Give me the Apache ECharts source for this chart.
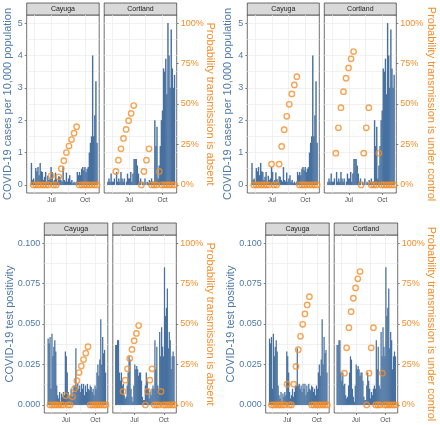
<!DOCTYPE html>
<html><head><meta charset="utf-8">
<script src="https://cdn.jsdelivr.net/npm/echarts@6/dist/echarts.min.js"></script>
<style>html,body{margin:0;padding:0;background:#fff}#c{width:440px;height:425px}</style>
</head><body><div id="c"></div>
<script>
// x values: days relative to 1 July 2020
const facets = ['Cayuga', 'Cortland'];
const xTickDays = [0, 92];
const xTickLabels = ['Jul', 'Oct'];
const xGridDays = [-46, 0, 46, 92];

const casesTicks = [0, 1, 2, 3, 4, 5];
const casesGrid = [0, 0.5, 1, 1.5, 2, 2.5, 3, 3.5, 4, 4.5, 5];
const posTicks = [0, 0.025, 0.05, 0.075, 0.1];
const posGrid = [0, 0.0125, 0.025, 0.0375, 0.05, 0.0625, 0.075, 0.0875, 0.1];
const probTicks = [0, 0.25, 0.5, 0.75, 1];

// 3-day bins: first day of series and bin step
const cayugaCasesStart = -55;
const cortlandCasesStart = -58;
const cayugaPosStart = -56;
const cortlandPosStart = -59;
const binStep = 3;

const cayugaCases = [0.68,0.15,0.2,0.1,0.52,0.42,0.55,0.3,0.68,0.42,
  0.4,0.15,0.25,0.4,0.1,0.28,0.15,0.2,0.55,0.4,
  0.1,0.15,0.38,0.18,0.1,0.27,0.25,0.15,0.1,0.55,
  0.15,0.1,0.38,0.1,0.2,0.3,0.1,0.15,0.05,0.1,
  0.05,0.1,0.4,0.3,0.4,0.3,0.5,0.55,0.45,0.55,
  0.4,0.5,0.55,1.0,1.3,1.5,4.0,1.5,2.15,3.2,1.3];
const cortlandCases = [0.1,0.2,0.1,0.35,0.1,0.1,0.2,0,0.4,0.1,
  0.2,0.1,0.4,0.2,0.1,0.2,0,0.1,0.35,0.2,
  0.2,0.4,0.1,0.35,0.8,0.8,0.8,0.6,0.35,0.1,
  0.2,0,0.1,0.05,0.2,0,0.1,0.05,0.15,0.1,
  0.2,0.1,0.1,2.0,1.2,1.8,0.2,0.6,1.2,2.0,
  2.3,3.6,3.5,3.9,2.8,5.0,4.0,3.0,4.8,3.6,3.0,3.4];
const cayugaPos = [0.041,0.038,0.042,0.01,0.044,0.03,0.036,0.04,0.033,0.012,
  0.006,0.004,0.008,0.002,0.007,0.005,0.008,0.006,0.033,0.03,
  0.02,0.008,0.004,0.006,0.01,0.005,0.008,0.012,0.012,0.035,
  0.012,0.013,0.01,0.012,0.008,0.013,0.01,0.013,0.006,0.012,
  0.008,0.013,0.01,0.009,0.012,0.011,0.008,0.01,0.006,0.012,
  0.01,0.02,0.025,0.018,0.028,0.053,0.025,0.042,0.032,0.034,0.02];
const cortlandPos = [0.037,0.037,0.04,0.04,0.02,0.015,0.02,0.012,0.013,0.006,
  0.004,0.005,0.012,0.02,0.03,0.028,0.01,0.005,0.002,0.012,
  0.025,0.022,0.024,0.022,0.018,0.02,0.02,0.015,0.005,0.003,
  0.003,0.012,0.02,0.015,0.01,0.004,0.008,0.006,0.01,0.012,
  0.01,0.04,0.022,0.036,0.012,0.01,0.045,0.03,0.048,0.036,
  0.03,0.085,0.055,0.06,0.072,0.035,0.045,0.04,0.022,0.03,0.033,0.03];

// weekly probability estimates
const probDays = [-50,-43,-36,-29,-22,-15,-8,-1,6,13,20,27,34,41,48,55,62,69,76,83,90,97,104,111,118,125];
const cayugaAbsent = [0,0,0,0,0,0,0,0.056,0,0,0.05,0.10,0.15,0.20,0.24,0.28,0.32,0.36,0,0,0,0,0,0,0,0];
const cortlandAbsent = [null,null,0.083,0.153,0.223,0.287,0.343,0.397,0.442,0.49,null,null,0,0.083,0.153,0.223,0,0,0,0.083,0,0,0,0,0,0];
const cayugaControl = [0,0,0,0,0,0,0,0.128,0,0,0.128,0.238,0.341,0.424,0.498,0.562,0.618,0.669,0,0,0,0,0,0,0,0];
const cortlandControl = [null,null,0.196,0.353,0.477,0.576,0.659,0.723,0.779,0.824,null,null,0,0.196,0.353,0.477,0,0,0,0.196,0,0,0,0,0,0];

const BLUE = '#4E79A7', BAR_BLUE = '#46709f', ORANGE = '#F28E2B';
const FONT = 'Liberation Sans, Arial, Helvetica, sans-serif';
const X_MIN = -68, X_MAX = 131;

function barPairs(start, vals) { return vals.map((v, i) => [start + i * binStep, v]); }
function probPairs(vals) { return probDays.map((d, i) => [d, vals[i]]).filter(p => p[1] !== null); }

const panels = [
  {L: 26.7, W: 72.5, top: 15, bars: [barPairs(cayugaCasesStart, cayugaCases), barPairs(cortlandCasesStart, cortlandCases)],
   probs: [probPairs(cayugaAbsent), probPairs(cortlandAbsent)], kind: 'cases',
   leftTitle: 'COVID-19 cases per 10,000 population', rightTitle: 'Probability transmission is absent', ltx: 8, rtx: 210},
  {L: 247.3, W: 72, top: 15, bars: [barPairs(cayugaCasesStart, cayugaCases), barPairs(cortlandCasesStart, cortlandCases)],
   probs: [probPairs(cayugaControl), probPairs(cortlandControl)], kind: 'cases',
   leftTitle: 'COVID-19 cases per 10,000 population', rightTitle: 'Probability transmission is under control', ltx: 228, rtx: 431},
  {L: 44.3, W: 63.5, top: 235, bars: [barPairs(cayugaPosStart, cayugaPos), barPairs(cortlandPosStart, cortlandPos)],
   probs: [probPairs(cayugaAbsent), probPairs(cortlandAbsent)], kind: 'pos',
   leftTitle: 'COVID-19 test positivity', rightTitle: 'Probability transmission is absent', ltx: 9.5, rtx: 210},
  {L: 265.7, W: 63.5, top: 235, bars: [barPairs(cayugaPosStart, cayugaPos), barPairs(cortlandPosStart, cortlandPos)],
   probs: [probPairs(cayugaControl), probPairs(cortlandControl)], kind: 'pos',
   leftTitle: 'COVID-19 test positivity', rightTitle: 'Probability transmission is under control', ltx: 231, rtx: 431}
];
const H = 178, GAP = 5, STRIP = 12;
const noZero = {show: false, onZero: false};

const grid = [], xAxis = [], yAxis = [], series = [], graphic = [];
panels.forEach((p, c) => {
  const isCases = p.kind === 'cases';
  const yMin = isCases ? -0.25 : -0.005, yMax = isCases ? 5.25 : 0.105;
  const barPx = binStep * p.W / (X_MAX - X_MIN) * 1.3;
  facets.forEach((name, f) => {
    const gi = c * 2 + f;
    const left = p.L + f * (p.W + GAP);
    grid.push({left: left, top: p.top, width: p.W, height: H, show: true,
      borderColor: '#333', borderWidth: 0.7, backgroundColor: '#fff', containLabel: false, outerBoundsMode: 'none'});
    xAxis.push({type: 'value', gridIndex: gi, position: 'bottom', min: X_MIN, max: X_MAX,
      axisLine: noZero,
      axisTick: {show: true, customValues: xTickDays, length: 2, lineStyle: {color: '#333', width: 0.6}},
      axisLabel: {show: true, customValues: xTickDays, margin: 4, fontSize: 6.5, color: '#4d4d4d', fontFamily: FONT,
        formatter: v => xTickLabels[xTickDays.indexOf(v)] || ''},
      splitLine: {show: false}});
    xAxis.push({type: 'value', gridIndex: gi, position: 'top', min: X_MIN, max: X_MAX,
      axisLine: noZero, axisLabel: {show: false},
      axisTick: {show: false, customValues: xGridDays},
      splitLine: {show: true, lineStyle: {color: '#ebebeb', width: 0.7}}});
    yAxis.push({type: 'value', gridIndex: gi, position: 'left', min: yMin, max: yMax,
      axisLine: noZero,
      axisTick: {show: f === 0, customValues: isCases ? casesTicks : posTicks, length: 2, lineStyle: {color: '#333', width: 0.6}},
      axisLabel: {show: f === 0, customValues: isCases ? casesTicks : posTicks, margin: 4, fontSize: 9, color: BLUE, fontFamily: FONT,
        formatter: v => isCases ? String(Math.round(v)) : v.toFixed(3)},
      splitLine: {show: false}});
    yAxis.push({type: 'value', gridIndex: gi, position: 'right', min: -0.05, max: 1.05,
      axisLine: noZero,
      axisTick: {show: f === 1, customValues: probTicks, length: 2, lineStyle: {color: '#333', width: 0.6}},
      axisLabel: {show: f === 1, customValues: probTicks, margin: 4, fontSize: 9, color: ORANGE, fontFamily: FONT,
        formatter: v => Math.round(v * 100) + '%'},
      splitLine: {show: false}});
    yAxis.push({type: 'value', gridIndex: gi, position: 'left', min: yMin, max: yMax,
      axisLine: noZero, axisLabel: {show: false},
      axisTick: {show: false, customValues: isCases ? casesGrid : posGrid},
      splitLine: {show: true, lineStyle: {color: '#ebebeb', width: 0.7}}});
    series.push({type: 'bar', xAxisIndex: 2 * gi, yAxisIndex: 3 * gi, data: p.bars[f],
      barWidth: barPx, itemStyle: {color: BAR_BLUE}, z: 2, silent: true});
    series.push({type: 'scatter', xAxisIndex: 2 * gi, yAxisIndex: 3 * gi + 1, data: p.probs[f],
      symbol: 'circle', symbolSize: 5.4,
      itemStyle: {color: 'rgba(0,0,0,0)', borderColor: ORANGE, borderWidth: 1.4}, z: 3, silent: true});
    graphic.push({type: 'rect', shape: {x: left, y: p.top - STRIP, width: p.W, height: STRIP},
      style: {fill: '#d9d9d9', stroke: '#333', lineWidth: 0.7}, silent: true});
    graphic.push({type: 'text', x: left + p.W / 2, y: p.top - STRIP / 2,
      style: {text: name, fill: '#1a1a1a', font: '7px ' + FONT, align: 'center', verticalAlign: 'middle'}, silent: true});
  });
  const cy = p.top + H / 2;
  graphic.push({type: 'text', x: p.ltx, y: cy, rotation: Math.PI / 2,
    style: {text: p.leftTitle, fill: BLUE, font: '11px ' + FONT, align: 'center', verticalAlign: 'middle'}, silent: true});
  graphic.push({type: 'text', x: p.rtx, y: cy, rotation: -Math.PI / 2,
    style: {text: p.rightTitle, fill: ORANGE, font: '11px ' + FONT, align: 'center', verticalAlign: 'middle'}, silent: true});
});

const chart = echarts.init(document.getElementById('c'), null, {renderer: 'canvas'});
chart.setOption({animation: false, backgroundColor: '#fff', textStyle: {fontFamily: FONT},
  grid, xAxis, yAxis, series, graphic});
</script></body></html>
